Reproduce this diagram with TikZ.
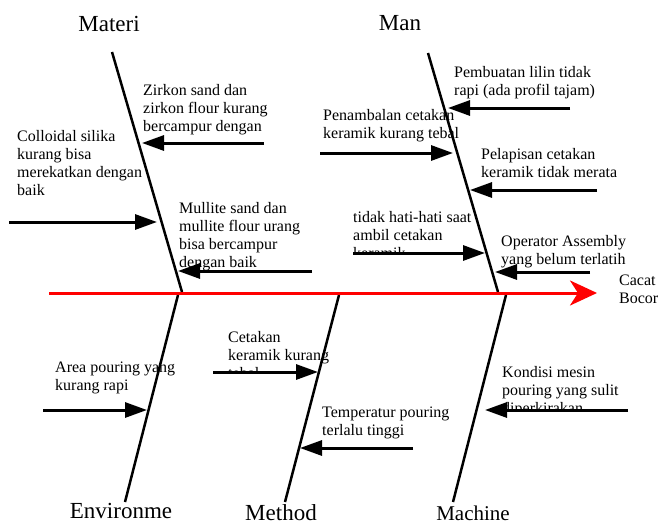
\documentclass[tikz,border=0pt]{standalone}
\usepackage{fontspec}
\setmainfont{Liberation Serif}
\usetikzlibrary{arrows.meta}

\begin{document}
\begin{tikzpicture}[x=1pt, y=-1pt,
    cause/.style={align=left, anchor=base west, inner sep=0pt, font=\fontsize{16}{18}\selectfont},
    category/.style={anchor=base, inner sep=0pt, font=\fontsize{23}{26}\selectfont},
    bone/.style={line width=2.5pt},
    minor/.style={line width=3pt, ->, >={Triangle[length=22pt,width=15pt]}},
    spine/.style={red, line width=3pt, -{Stealth[length=27pt,width=25pt,inset=8pt]}}]
  \useasboundingbox (0,0) rectangle (659,525);

  % categories (multi-line nodes sit on their last baseline)
  \node[category] (materi)  at (109,31)  {Materi};
  \node[category] (man)     at (400,30)  {Man};
  \node[category] (environ) at (121,518) {Environme};
  \node[category] (method)  at (281,520) {Method};
  \node[category, font=\fontsize{21}{24}\selectfont] (machine) at (473,520) {Machine};
  \node[cause] (effect) at (619,303) {Cacat\\Bocor};

  % bones
  \coordinate (mat-t) at (112,52);  \coordinate (mat-b) at (182,292);
  \coordinate (man-t) at (428,53);  \coordinate (man-b) at (498,292);
  \coordinate (env-t) at (178,295); \coordinate (env-b) at (125,502);
  \coordinate (met-t) at (339,295); \coordinate (met-b) at (285,502);
  \coordinate (mac-t) at (506,295); \coordinate (mac-b) at (453,502);
  \draw[bone] (mat-t) -- (mat-b);
  \draw[bone] (man-t) -- (man-b);
  \draw[bone] (env-t) -- (env-b);
  \draw[bone] (met-t) -- (met-b);
  \draw[bone] (mac-t) -- (mac-b);

  \coordinate (tail) at (49,293);
  \coordinate (head) at (597,293);
  \draw[spine] (tail) -- (head);

  % Materi
  \node[cause] (zirkon)  at (143,131) {Zirkon sand dan\\zirkon flour kurang\\bercampur dengan};
  \node[cause] (colloid) at (17,195)  {Colloidal silika\\kurang bisa\\merekatkan dengan\\baik};
  \node[cause] (mullite) at (179,267) {Mullite sand dan\\mullite flour urang\\bisa bercampur\\dengan baik};
  \coordinate (zirkon-s)  at (264,143); \coordinate (zirkon-e)  at (142,143);
  \coordinate (colloid-s) at (9,222);   \coordinate (colloid-e) at (157,222);
  \coordinate (mullite-s) at (312,271); \coordinate (mullite-e) at (178,271);
  \draw[minor] (zirkon-s)  -- (zirkon-e);
  \draw[minor] (colloid-s) -- (colloid-e);
  \draw[minor] (mullite-s) -- (mullite-e);

  % Man
  \node[cause] (lilin)    at (454,95)  {Pembuatan lilin tidak\\rapi (ada profil tajam)};
  \node[cause] (tambal)   at (323,138) {Penambalan cetakan\\keramik kurang tebal};
  \node[cause] (lapis)    at (481,177) {Pelapisan cetakan\\keramik tidak merata};
  \begin{scope}
    \clip (340,200) rectangle (480,253);
    \node[cause] (hati)   at (353,258) {tidak hati-hati saat\\ambil cetakan\\keramik};
  \end{scope}
  \node[cause] (operator) at (501,264) {Operator Assembly\\yang belum terlatih};
  \coordinate (lilin-s)    at (570,108); \coordinate (lilin-e)    at (448,108);
  \coordinate (tambal-s)   at (320,153); \coordinate (tambal-e)   at (453,153);
  \coordinate (lapis-s)    at (597,190); \coordinate (lapis-e)    at (470,190);
  \coordinate (hati-s)     at (353,253); \coordinate (hati-e)     at (485,253);
  \coordinate (operator-s) at (590,272); \coordinate (operator-e) at (495,272);
  \draw[minor] (lilin-s)    -- (lilin-e);
  \draw[minor] (tambal-s)   -- (tambal-e);
  \draw[minor] (lapis-s)    -- (lapis-e);
  \draw[minor] (hati-s)     -- (hati-e);
  \draw[minor] (operator-s) -- (operator-e);

  % Environment
  \node[cause] (area) at (55,390) {Area pouring yang\\kurang rapi};
  \coordinate (area-s) at (43,410); \coordinate (area-e) at (147,410);
  \draw[minor] (area-s) -- (area-e);

  % Method
  \begin{scope}
    \clip (215,320) rectangle (340,372);
    \node[cause] (cetakan) at (228,378) {Cetakan\\keramik kurang\\tebal};
  \end{scope}
  \node[cause] (temp) at (322,435) {Temperatur pouring\\terlalu tinggi};
  \coordinate (cetakan-s) at (213,372); \coordinate (cetakan-e) at (318,372);
  \coordinate (temp-s)    at (413,448); \coordinate (temp-e)    at (300,448);
  \draw[minor] (cetakan-s) -- (cetakan-e);
  \draw[minor] (temp-s)    -- (temp-e);

  % Machine
  \begin{scope}
    \clip (495,355) rectangle (640,410);
    \node[cause] (kondisi) at (502,413) {Kondisi mesin\\pouring yang sulit\\diperkirakan};
  \end{scope}
  \coordinate (kondisi-s) at (628,410); \coordinate (kondisi-e) at (485,410);
  \draw[minor] (kondisi-s) -- (kondisi-e);
\end{tikzpicture}
\end{document}
